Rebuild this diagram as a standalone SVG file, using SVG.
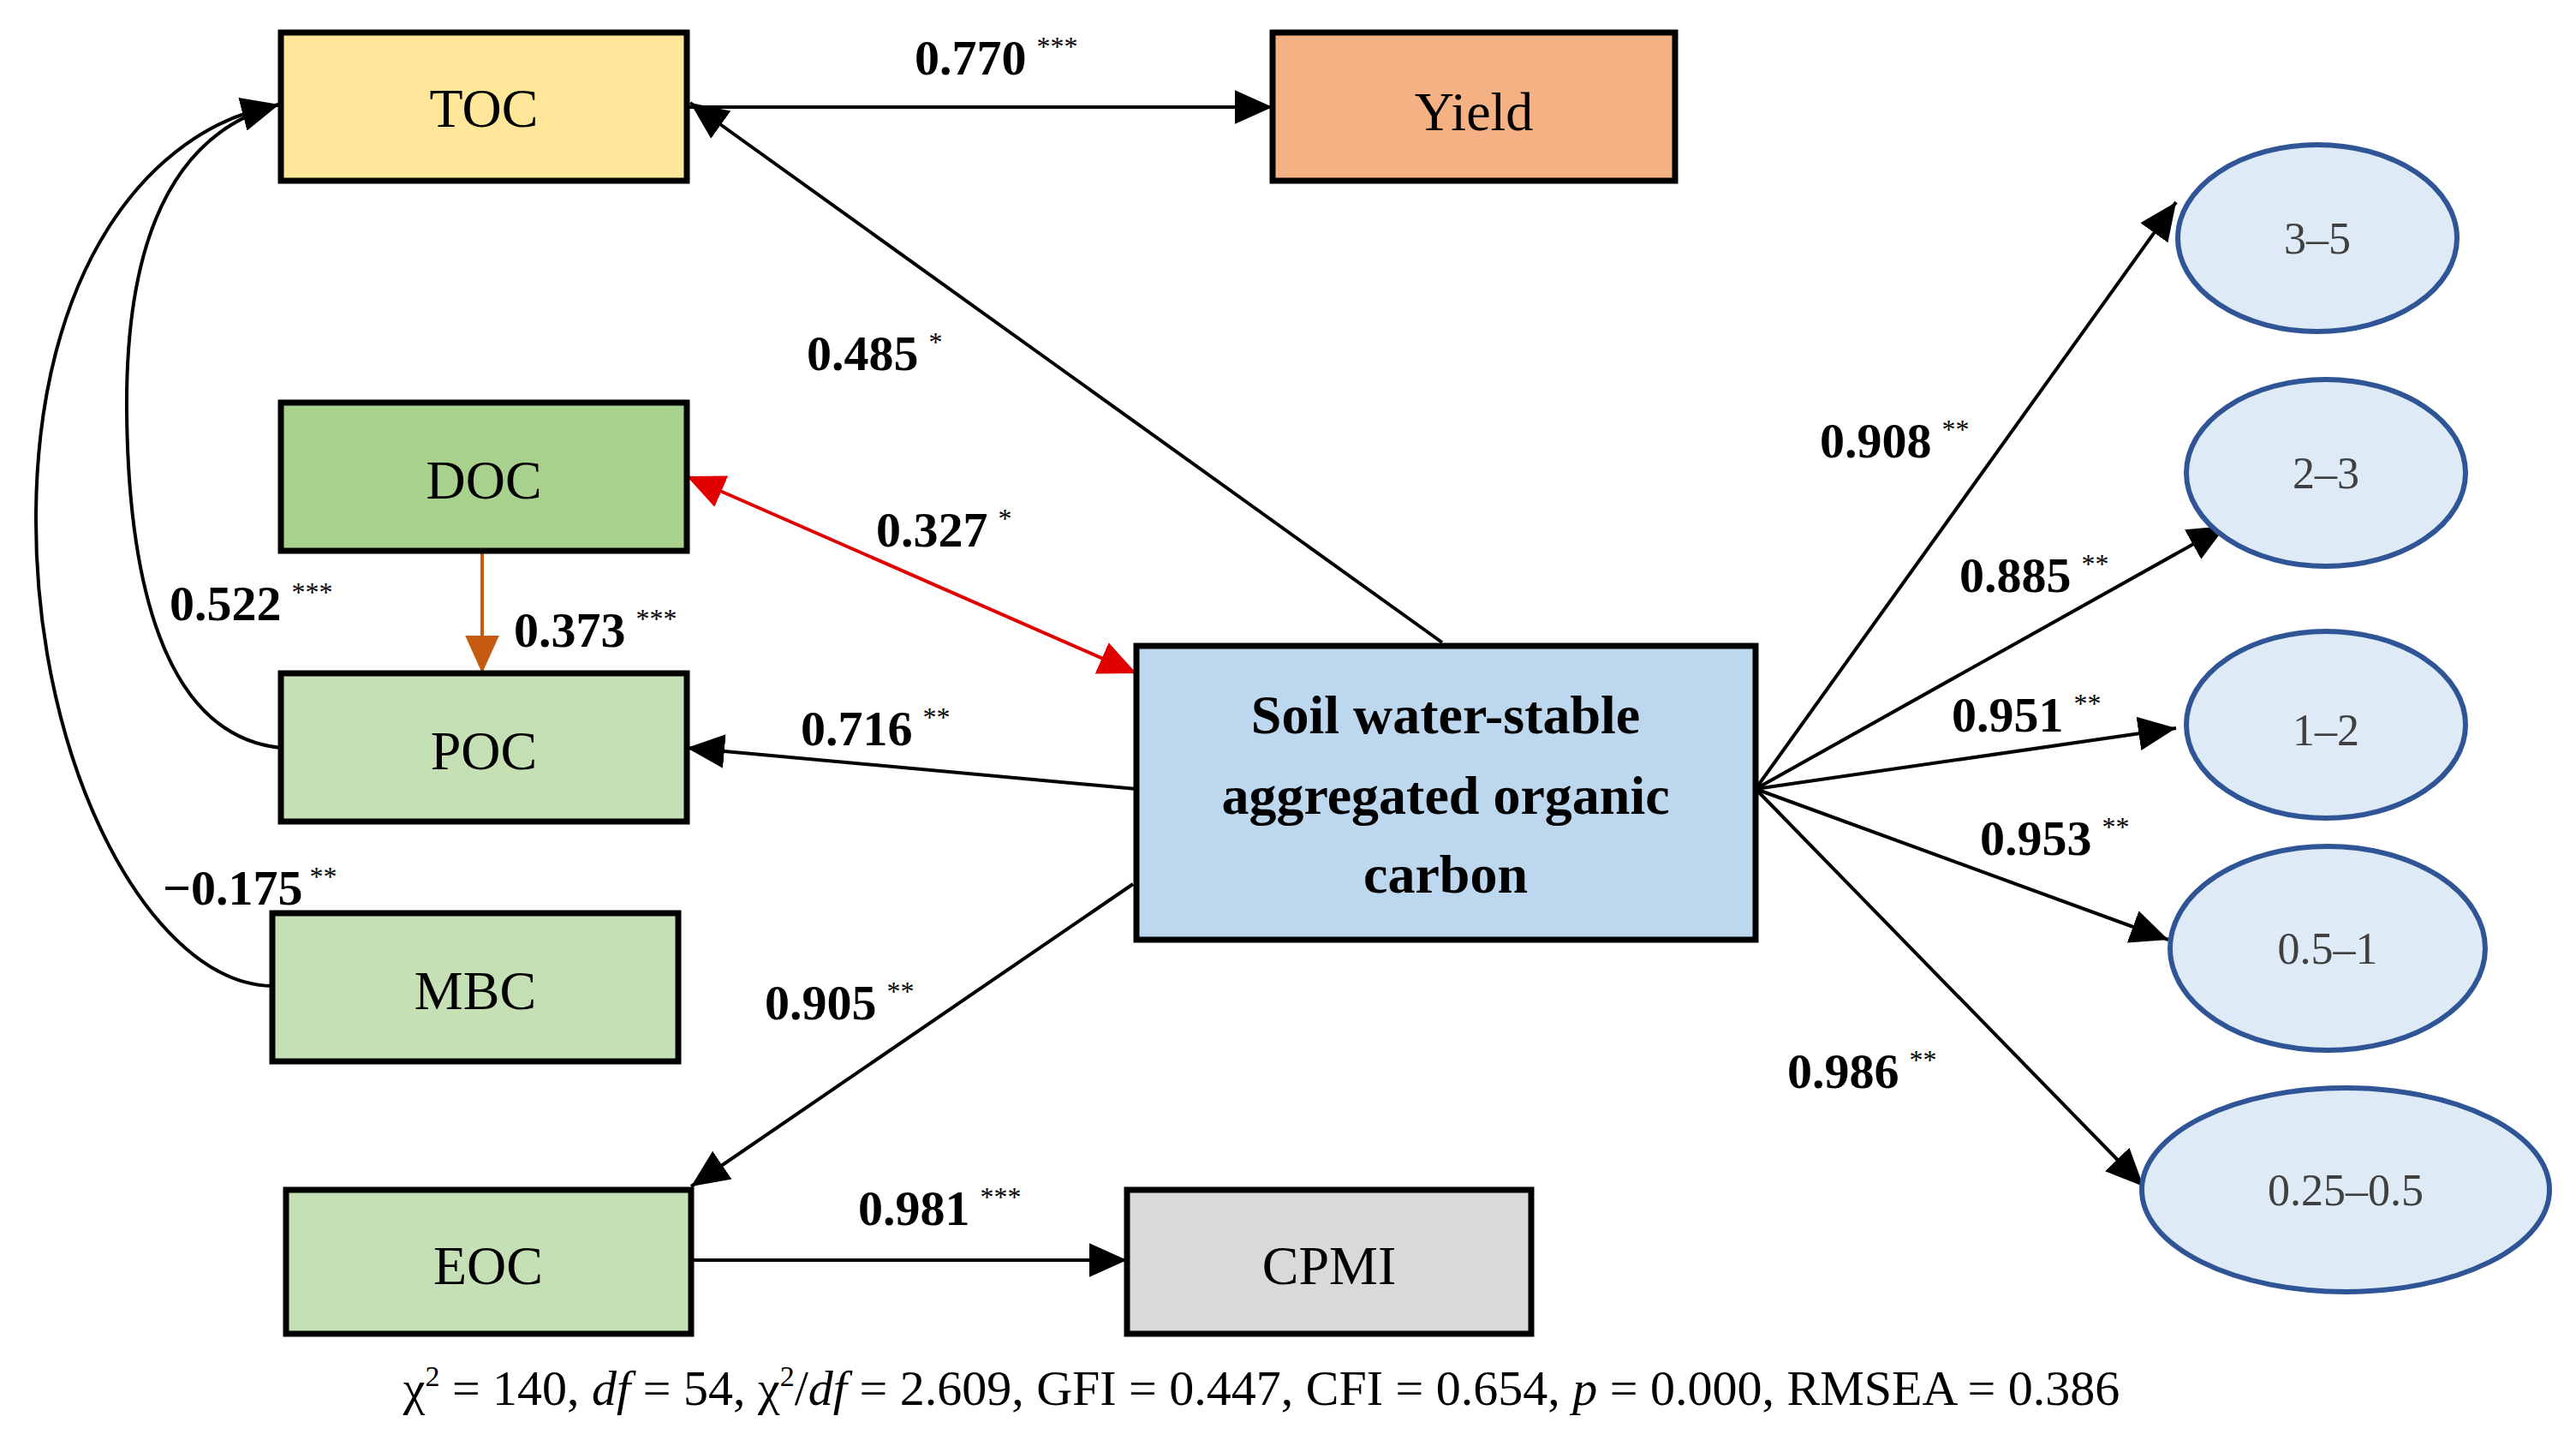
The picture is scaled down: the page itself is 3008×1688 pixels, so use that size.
<svg xmlns="http://www.w3.org/2000/svg" width="3008" height="1688" viewBox="0 0 3008 1688">
<style>
.bx{stroke:#000;stroke-width:7}
.el{fill:#DEEBF7;stroke:#2F5597;stroke-width:6}
.t{font-family:"Liberation Serif",serif;font-size:64px;text-anchor:middle;dominant-baseline:central;fill:#000}
.et{font-family:"Liberation Serif",serif;font-size:52px;text-anchor:middle;dominant-baseline:central;fill:#404040}
.lb{font-family:"Liberation Serif",serif;font-size:58px;font-weight:bold;fill:#000}
.s{font-size:32px;font-weight:normal}
.ln{fill:none;stroke:#000;stroke-width:4}
.ft{font-family:"Liberation Serif",serif;font-size:58px;text-anchor:middle;fill:#000}
</style>
<defs>
<marker id="a" viewBox="0 0 10 10" refX="10" refY="5" markerWidth="11" markerHeight="11" markerUnits="userSpaceOnUse" orient="auto-start-reverse"><path d="M0,0L10,5L0,10z" fill="#000"/></marker>
<marker id="ab" viewBox="0 0 10 10" refX="10" refY="5" markerWidth="44" markerHeight="44" markerUnits="userSpaceOnUse" orient="auto-start-reverse"><path d="M0,0.5L10,5L0,9.5z" fill="#000"/></marker>
<marker id="ar" viewBox="0 0 10 10" refX="10" refY="5" markerWidth="44" markerHeight="44" markerUnits="userSpaceOnUse" orient="auto-start-reverse"><path d="M0,0.5L10,5L0,9.5z" fill="#E00000"/></marker>
<marker id="ao" viewBox="0 0 10 10" refX="10" refY="5" markerWidth="44" markerHeight="44" markerUnits="userSpaceOnUse" orient="auto-start-reverse"><path d="M0,0.5L10,5L0,9.5z" fill="#C55A11"/></marker>
</defs>
<g id="connectors">
<line class="ln" x1="802" y1="125" x2="1486" y2="125" marker-end="url(#ab)"/>
<line class="ln" x1="1684" y1="750" x2="806" y2="120" marker-end="url(#ab)"/>
<line x1="1327" y1="786" x2="802" y2="556" stroke="#E00000" stroke-width="4" marker-start="url(#ar)" marker-end="url(#ar)"/>
<line x1="563" y1="643" x2="563" y2="786" stroke="#C55A11" stroke-width="4" marker-end="url(#ao)"/>
<line class="ln" x1="1327" y1="921" x2="802" y2="873" marker-end="url(#ab)"/>
<line class="ln" x1="1323" y1="1032" x2="807" y2="1385" marker-end="url(#ab)"/>
<line class="ln" x1="807" y1="1471" x2="1316" y2="1471" marker-end="url(#ab)"/>
<line class="ln" x1="2050" y1="921" x2="2541" y2="236" marker-end="url(#ab)"/>
<line class="ln" x1="2050" y1="921" x2="2599" y2="614" marker-end="url(#ab)"/>
<line class="ln" x1="2050" y1="921" x2="2541" y2="850" marker-end="url(#ab)"/>
<line class="ln" x1="2050" y1="921" x2="2532" y2="1097" marker-end="url(#ab)"/>
<line class="ln" x1="2050" y1="921" x2="2503" y2="1385" marker-end="url(#ab)"/>
<path class="ln" d="M328,873 C200,860 150,700 148,480 C146,250 220,150 326,122" marker-end="url(#ab)"/>
<path class="ln" d="M318,1151 C180,1150 40,900 42,600 C44,320 170,150 326,122"/>
<text class="lb" x="1068" y="87">0.770<tspan class="s" dx="12" dy="-22">***</tspan></text>
<text class="lb" x="942" y="432">0.485<tspan class="s" dx="12" dy="-22">*</tspan></text>
<text class="lb" x="1023" y="638">0.327<tspan class="s" dx="12" dy="-22">*</tspan></text>
<text class="lb" x="600" y="755">0.373<tspan class="s" dx="12" dy="-22">***</tspan></text>
<text class="lb" x="198" y="724">0.522<tspan class="s" dx="12" dy="-22">***</tspan></text>
<text class="lb" x="935" y="870">0.716<tspan class="s" dx="12" dy="-22">**</tspan></text>
<text class="lb" x="190" y="1056">−0.175<tspan class="s" dx="8" dy="-22">**</tspan></text>
<text class="lb" x="893" y="1190">0.905<tspan class="s" dx="12" dy="-22">**</tspan></text>
<text class="lb" x="1002" y="1430">0.981<tspan class="s" dx="12" dy="-22">***</tspan></text>
<text class="lb" x="2125" y="534">0.908<tspan class="s" dx="12" dy="-22">**</tspan></text>
<text class="lb" x="2288" y="691">0.885<tspan class="s" dx="12" dy="-22">**</tspan></text>
<text class="lb" x="2279" y="854">0.951<tspan class="s" dx="12" dy="-22">**</tspan></text>
<text class="lb" x="2312" y="998">0.953<tspan class="s" dx="12" dy="-22">**</tspan></text>
<text class="lb" x="2087" y="1270">0.986<tspan class="s" dx="12" dy="-22">**</tspan></text>
</g>
<g id="TOC"><rect class="bx" x="328" y="38" width="474" height="173" fill="#FFE699"/><text class="t" x="565" y="126">TOC</text></g>
<g id="Yield"><rect class="bx" x="1486" y="38" width="470" height="173" fill="#F4B183"/><text class="t" x="1721" y="130">Yield</text></g>
<g id="DOC"><rect class="bx" x="328" y="470" width="474" height="173" fill="#A9D18E"/><text class="t" x="565" y="560">DOC</text></g>
<g id="POC"><rect class="bx" x="328" y="786" width="474" height="173" fill="#C5E0B4"/><text class="t" x="565" y="876">POC</text></g>
<g id="MBC"><rect class="bx" x="318" y="1066" width="474" height="173" fill="#C5E0B4"/><text class="t" x="555" y="1156">MBC</text></g>
<g id="EOC"><rect class="bx" x="334" y="1389" width="473" height="168" fill="#C5E0B4"/><text class="t" x="570" y="1477">EOC</text></g>
<g id="CPMI"><rect class="bx" x="1316" y="1389" width="472" height="168" fill="#D9D9D9"/><text class="t" x="1552" y="1477">CPMI</text></g>
<g id="SWSAOC"><rect class="bx" x="1327" y="754" width="723" height="343" fill="#BDD7EE"/>
<text class="t" x="1688" y="834" font-weight="bold">Soil water-stable</text>
<text class="t" x="1688" y="928" font-weight="bold">aggregated organic</text>
<text class="t" x="1688" y="1020" font-weight="bold">carbon</text></g>
<g id="E35"><ellipse class="el" cx="2706" cy="278" rx="163" ry="109"/><text class="et" x="2706" y="278">3–5</text></g>
<g id="E23"><ellipse class="el" cx="2716" cy="552" rx="163" ry="109"/><text class="et" x="2716" y="552">2–3</text></g>
<g id="E12"><ellipse class="el" cx="2716" cy="846" rx="163" ry="109"/><text class="et" x="2716" y="852">1–2</text></g>
<g id="E051"><ellipse class="el" cx="2718" cy="1107" rx="184" ry="119"/><text class="et" x="2718" y="1107">0.5–1</text></g>
<g id="E025"><ellipse class="el" cx="2739" cy="1389" rx="238" ry="119"/><text class="et" x="2739" y="1389">0.25–0.5</text></g>
<text class="ft" x="1473" y="1640">χ<tspan font-size="34" dy="-22">2</tspan><tspan dy="22"> = 140, </tspan><tspan font-style="italic">df</tspan> = 54, χ<tspan font-size="34" dy="-22">2</tspan><tspan dy="22">/</tspan><tspan font-style="italic">df</tspan> = 2.609, GFI = 0.447, CFI = 0.654, <tspan font-style="italic">p</tspan> = 0.000, RMSEA = 0.386</text>
</svg>
